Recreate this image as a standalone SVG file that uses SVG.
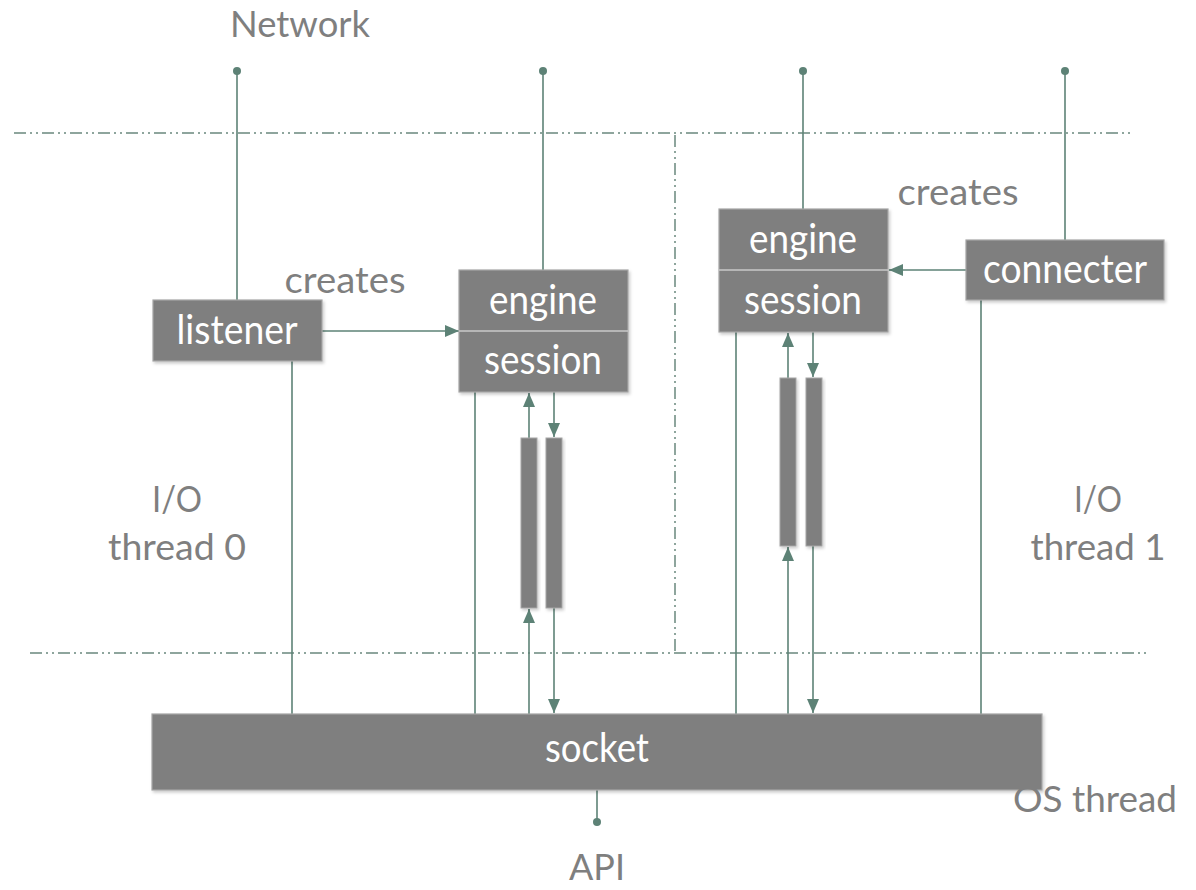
<svg xmlns="http://www.w3.org/2000/svg" width="1196" height="890" viewBox="0 0 1196 890">
  <defs>
    <style>
      .box { fill: #7f7f7f; stroke: #a6a6a6; stroke-width: 1.2; filter: url(#sh); }
      .bar { fill: #7f7f7f; stroke: #a6a6a6; stroke-width: 1; filter: url(#sh); }
      .div { stroke: #c8c8c8; stroke-width: 1.5; }
      .wt { fill: #ffffff; font-family: Lato, "Open Sans", sans-serif; font-size: 40px; }
      .gt { fill: #7f7f7f; font-family: Lato, "Open Sans", sans-serif; font-size: 36px; }
      .ln { stroke: #5d8276; stroke-width: 1.6; fill: none; }
      .ar { stroke: #5d8276; stroke-width: 1.6; fill: none; marker-end: url(#ah); }
      .dd { stroke: #8ea59d; stroke-width: 2; fill: none; stroke-dasharray: 12 4 2 4 2 4; }
      .dot { fill: #5d8276; }
    </style>
    <marker id="ah" markerUnits="userSpaceOnUse" markerWidth="15" markerHeight="13" refX="14" refY="6" orient="auto">
      <path d="M0,0 L14,6 L0,12 z" fill="#5d8276"/>
    </marker>
    <filter id="sh" x="-10%" y="-10%" width="130%" height="130%">
      <feDropShadow dx="1.5" dy="2" stdDeviation="1.5" flood-color="#000" flood-opacity="0.2"/>
    </filter>
  </defs>

  <g id="thread-boundaries">
    <path class="dd" d="M14 133 H1134"/>
    <path class="dd" d="M30 653 H1150"/>
    <path class="dd" d="M675 135 V653"/>
  </g>

  <g id="connectors">
    <line class="ln" x1="237" y1="71" x2="237" y2="300"/>
    <line class="ln" x1="543" y1="71" x2="543" y2="270"/>
    <line class="ln" x1="803" y1="71" x2="803" y2="209"/>
    <line class="ln" x1="1065" y1="71" x2="1065" y2="240"/>
    <circle class="dot" cx="237" cy="71" r="4"/>
    <circle class="dot" cx="543" cy="71" r="4"/>
    <circle class="dot" cx="803" cy="71" r="4"/>
    <circle class="dot" cx="1065" cy="71" r="4"/>

    <line class="ar" x1="322" y1="331" x2="459" y2="331"/>
    <line class="ar" x1="966" y1="270" x2="889" y2="270"/>

    <line class="ln" x1="292" y1="361" x2="292" y2="714"/>
    <line class="ln" x1="475" y1="392" x2="475" y2="714"/>
    <line class="ar" x1="529" y1="438" x2="529" y2="393"/>
    <line class="ar" x1="554" y1="392" x2="554" y2="437"/>
    <line class="ar" x1="529" y1="714" x2="529" y2="609"/>
    <line class="ar" x1="554" y1="608" x2="554" y2="713"/>

    <line class="ln" x1="736" y1="332" x2="736" y2="714"/>
    <line class="ar" x1="788" y1="378" x2="788" y2="333"/>
    <line class="ar" x1="813" y1="332" x2="813" y2="377"/>
    <line class="ar" x1="788" y1="714" x2="788" y2="547"/>
    <line class="ar" x1="813" y1="546" x2="813" y2="713"/>

    <line class="ln" x1="981" y1="300" x2="981" y2="714"/>

    <line class="ln" x1="597" y1="790" x2="597" y2="822"/>
    <circle class="dot" cx="597" cy="822" r="4"/>
  </g>

  <g id="listener">
    <rect class="box" x="153" y="300" width="169" height="61"/>
    <text class="wt" x="237" y="344" text-anchor="middle" textLength="121" lengthAdjust="spacingAndGlyphs">listener</text>
  </g>

  <g id="engine-session-0">
    <rect class="box" x="459" y="270" width="169" height="122"/>
    <line class="div" x1="459" y1="331" x2="628" y2="331"/>
    <text class="wt" x="543" y="314" text-anchor="middle" textLength="108" lengthAdjust="spacingAndGlyphs">engine</text>
    <text class="wt" x="543" y="374" text-anchor="middle" textLength="118" lengthAdjust="spacingAndGlyphs">session</text>
  </g>

  <g id="engine-session-1">
    <rect class="box" x="719" y="209" width="169" height="123"/>
    <line class="div" x1="719" y1="270" x2="888" y2="270"/>
    <text class="wt" x="803" y="253" text-anchor="middle" textLength="108" lengthAdjust="spacingAndGlyphs">engine</text>
    <text class="wt" x="803" y="314" text-anchor="middle" textLength="118" lengthAdjust="spacingAndGlyphs">session</text>
  </g>

  <g id="connecter">
    <rect class="box" x="966" y="240" width="198" height="60"/>
    <text class="wt" x="1065" y="283" text-anchor="middle" textLength="164" lengthAdjust="spacingAndGlyphs">connecter</text>
  </g>

  <g id="pipes-0">
    <rect class="bar" x="521" y="438" width="16" height="170"/>
    <rect class="bar" x="546" y="438" width="16" height="170"/>
  </g>

  <g id="pipes-1">
    <rect class="bar" x="780" y="378" width="16" height="168"/>
    <rect class="bar" x="806" y="378" width="16" height="168"/>
  </g>

  <g id="socket">
    <rect class="box" x="152" y="714" width="890" height="76"/>
    <text class="wt" x="597" y="762" text-anchor="middle" textLength="104" lengthAdjust="spacingAndGlyphs">socket</text>
  </g>

  <g id="labels">
    <text class="gt" x="300" y="37" text-anchor="middle" textLength="140" lengthAdjust="spacingAndGlyphs">Network</text>
    <text class="gt" x="345" y="293" text-anchor="middle" textLength="121" lengthAdjust="spacingAndGlyphs">creates</text>
    <text class="gt" x="958" y="205" text-anchor="middle" textLength="121" lengthAdjust="spacingAndGlyphs">creates</text>
    <text class="gt" x="177" y="512" text-anchor="middle" textLength="50" lengthAdjust="spacingAndGlyphs">I/O</text>
    <text class="gt" x="177" y="560" text-anchor="middle" textLength="138" lengthAdjust="spacingAndGlyphs">thread 0</text>
    <text class="gt" x="1098" y="512" text-anchor="middle" textLength="48" lengthAdjust="spacingAndGlyphs">I/O</text>
    <text class="gt" x="1098" y="560" text-anchor="middle" textLength="135" lengthAdjust="spacingAndGlyphs">thread 1</text>
    <text class="gt" x="1095" y="812" text-anchor="middle" textLength="164" lengthAdjust="spacingAndGlyphs">OS thread</text>
    <text class="gt" x="597" y="880" text-anchor="middle" textLength="56" lengthAdjust="spacingAndGlyphs">API</text>
  </g>
</svg>
